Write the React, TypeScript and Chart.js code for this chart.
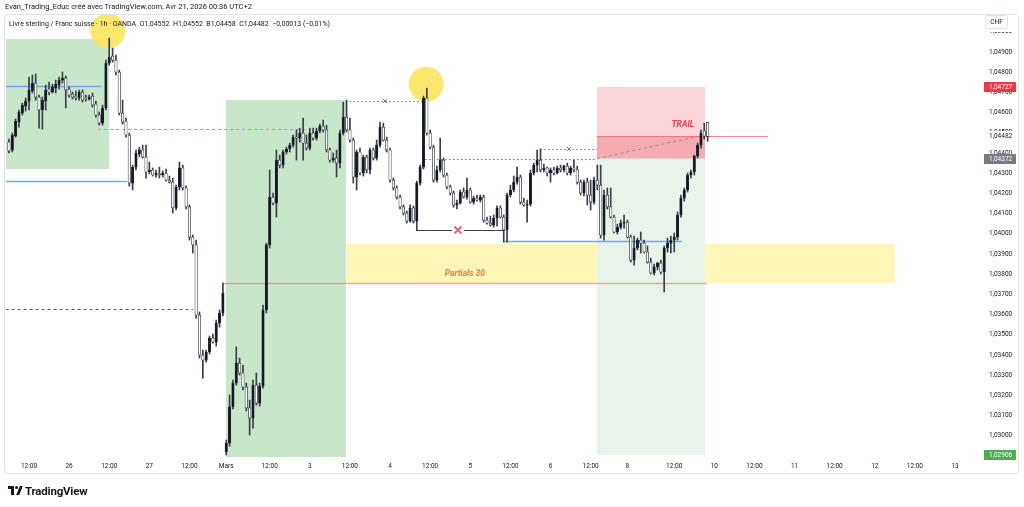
import React, { useEffect, useRef } from 'react';
import { Chart, registerables } from 'chart.js';

Chart.register(...registerables);

// ---------- candle data (GBP/CHF, 1h, OANDA) ----------
const openPrices = [
  1.04454,1.04415,1.04484,1.04553,1.04598,1.04632,1.04657,1.04707,1.04746,1.04677,
  1.04613,1.04657,1.04716,1.04702,1.04721,1.04736,1.04761,1.04771,1.04716,1.04692,
  1.04682,1.04672,1.04702,1.04672,1.04667,1.04682,1.04642,1.04588,1.04548,1.04623,
  1.04845,1.04880,1.04860,1.04801,1.04598,1.04558,1.04489,1.04251,1.04330,1.04395,
  1.04415,1.04380,1.04306,1.04316,1.04291,1.04296,1.04291,1.04301,1.04266,1.04256,
  1.04128,1.04231,1.04326,1.04227,1.04133,1.03984,1.03945,1.03598,1.03400,1.03375,
  1.03415,1.03484,1.03464,1.03558,1.03608,1.02920,1.02964,1.03143,1.03261,1.03360,
  1.03311,1.03241,1.03138,1.03088,1.03251,1.03162,1.03246,1.03623,1.03945,1.04182,
  1.04152,1.04365,1.04340,1.04405,1.04420,1.04439,1.04479,1.04474,1.04499,1.04449,
  1.04424,1.04499,1.04474,1.04509,1.04533,1.04514,1.04415,1.04365,1.04375,1.04350,
  1.04499,1.04578,1.04514,1.04464,1.04281,1.04405,1.04301,1.04380,1.04316,1.04415,
  1.04375,1.04439,1.04528,1.04464,1.04415,1.04266,1.04227,1.04182,1.04133,1.04103,
  1.04063,1.04128,1.04063,1.04251,1.04330,1.04672,1.04499,1.04429,1.04266,1.04316,
  1.04365,1.04291,1.04232,1.04202,1.04142,1.04152,1.04207,1.04182,1.04217,1.04157,
  1.04177,1.04167,1.04182,1.04068,1.04053,1.04043,1.04078,1.04128,1.04083,1.04019,
  1.04192,1.04217,1.04256,1.04281,1.04157,1.04142,1.04147,1.04301,1.04340,1.04365,
  1.04316,1.04326,1.04301,1.04316,1.04301,1.04326,1.04316,1.04335,1.04301,1.04326,
  1.04316,1.04256,1.04202,1.04256,1.04192,1.04157,1.04266,1.04241,1.03994,1.04192,
  1.04133,1.04083,1.04009,1.04033,1.04053,1.04058,1.03984,1.03870,1.03930,1.03969,
  1.03954,1.03910,1.03860,1.03806,1.03836,1.03855,1.03811,1.03930,1.03954,1.03969,
  1.03984,1.04093,1.04177,1.04217,1.04291,1.04306,1.04385,1.04439,1.04509,1.04552,
];
const highPrices = [
  1.04469,1.04499,1.04568,1.04613,1.04647,1.04672,1.04776,1.04786,1.04791,1.04687,
  1.04677,1.04736,1.04751,1.04741,1.04761,1.04776,1.04801,1.04781,1.04726,1.04702,
  1.04707,1.04712,1.04712,1.04687,1.04687,1.04697,1.04657,1.04603,1.04637,1.04860,
  1.04969,1.04919,1.04885,1.04811,1.04662,1.04573,1.04499,1.04340,1.04415,1.04429,
  1.04439,1.04439,1.04355,1.04326,1.04316,1.04330,1.04311,1.04321,1.04286,1.04276,
  1.04241,1.04355,1.04340,1.04237,1.04143,1.03994,1.03969,1.03613,1.03425,1.03425,
  1.03494,1.03504,1.03573,1.03623,1.03756,1.02979,1.03202,1.03276,1.03440,1.03385,
  1.03350,1.03261,1.03177,1.03276,1.03311,1.03261,1.03647,1.03954,1.04316,1.04202,
  1.04415,1.04390,1.04415,1.04429,1.04449,1.04489,1.04514,1.04523,1.04573,1.04489,
  1.04523,1.04523,1.04523,1.04543,1.04563,1.04538,1.04425,1.04400,1.04415,1.04514,
  1.04652,1.04662,1.04573,1.04474,1.04415,1.04425,1.04390,1.04390,1.04425,1.04425,
  1.04464,1.04553,1.04548,1.04479,1.04425,1.04276,1.04237,1.04192,1.04143,1.04113,
  1.04143,1.04138,1.04261,1.04340,1.04682,1.04721,1.04514,1.04439,1.04335,1.04474,
  1.04375,1.04301,1.04241,1.04212,1.04167,1.04217,1.04227,1.04276,1.04227,1.04187,
  1.04192,1.04192,1.04192,1.04083,1.04088,1.04093,1.04138,1.04138,1.04093,1.04202,
  1.04241,1.04286,1.04330,1.04291,1.04177,1.04167,1.04316,1.04350,1.04415,1.04420,
  1.04345,1.04330,1.04326,1.04330,1.04335,1.04340,1.04340,1.04350,1.04335,1.04365,
  1.04335,1.04266,1.04266,1.04276,1.04266,1.04281,1.04340,1.04340,1.04217,1.04227,
  1.04227,1.04093,1.04048,1.04068,1.04093,1.04068,1.03994,1.03989,1.03979,1.04009,
  1.03969,1.03940,1.03880,1.03850,1.03860,1.03870,1.03940,1.03979,1.03989,1.04004,
  1.04108,1.04192,1.04227,1.04301,1.04316,1.04390,1.04449,1.04514,1.04548,1.04552,
];
const lowPrices = [
  1.04400,1.04405,1.04479,1.04528,1.04588,1.04608,1.04613,1.04697,1.04662,1.04523,
  1.04518,1.04613,1.04687,1.04697,1.04697,1.04716,1.04746,1.04623,1.04677,1.04667,
  1.04662,1.04662,1.04652,1.04657,1.04662,1.04627,1.04578,1.04538,1.04538,1.04613,
  1.04835,1.04850,1.04786,1.04588,1.04543,1.04479,1.04236,1.04217,1.04316,1.04380,
  1.04375,1.04276,1.04296,1.04286,1.04281,1.04276,1.04281,1.04261,1.04251,1.04103,
  1.04118,1.04217,1.04217,1.04123,1.03969,1.03905,1.03583,1.03385,1.03286,1.03365,
  1.03405,1.03459,1.03444,1.03538,1.03593,1.02905,1.02949,1.03133,1.03251,1.03301,
  1.03227,1.03123,1.03004,1.03038,1.03152,1.03147,1.03236,1.03608,1.03930,1.04143,
  1.04083,1.04326,1.04326,1.04395,1.04405,1.04429,1.04365,1.04454,1.04365,1.04415,
  1.04415,1.04464,1.04464,1.04499,1.04504,1.04405,1.04355,1.04355,1.04281,1.04326,
  1.04489,1.04504,1.04454,1.04251,1.04217,1.04291,1.04286,1.04301,1.04296,1.04365,
  1.04365,1.04429,1.04459,1.04405,1.04256,1.04217,1.04172,1.04123,1.04093,1.04053,
  1.04058,1.04053,1.04019,1.04241,1.04321,1.04489,1.04420,1.04256,1.04256,1.04306,
  1.04281,1.04222,1.04192,1.04132,1.04123,1.04147,1.04177,1.04172,1.04152,1.04147,
  1.04162,1.04157,1.04058,1.04048,1.04038,1.04033,1.04038,1.04078,1.03959,1.03959,
  1.04182,1.04207,1.04246,1.04147,1.04137,1.04058,1.04137,1.04291,1.04306,1.04306,
  1.04306,1.04286,1.04256,1.04291,1.04296,1.04306,1.04306,1.04291,1.04291,1.04306,
  1.04246,1.04192,1.04187,1.04142,1.04118,1.04147,1.04217,1.03979,1.03969,1.04123,
  1.04078,1.04004,1.03999,1.04023,1.04028,1.03979,1.03860,1.03845,1.03920,1.03905,
  1.03905,1.03855,1.03801,1.03796,1.03821,1.03801,1.03712,1.03910,1.03905,1.03910,
  1.03969,1.04083,1.04162,1.04207,1.04276,1.04291,1.04375,1.04424,1.04469,1.04458,
];
const closePrices = [
  1.04410,1.04489,1.04558,1.04603,1.04637,1.04657,1.04712,1.04746,1.04677,1.04613,
  1.04662,1.04712,1.04702,1.04726,1.04741,1.04761,1.04771,1.04712,1.04687,1.04677,
  1.04672,1.04702,1.04662,1.04667,1.04677,1.04637,1.04588,1.04548,1.04623,1.04845,
  1.04875,1.04860,1.04801,1.04598,1.04553,1.04489,1.04251,1.04330,1.04400,1.04415,
  1.04380,1.04306,1.04316,1.04291,1.04301,1.04291,1.04301,1.04266,1.04256,1.04128,
  1.04231,1.04326,1.04227,1.04133,1.03984,1.03945,1.03598,1.03400,1.03375,1.03415,
  1.03484,1.03464,1.03558,1.03608,1.03707,1.02964,1.03143,1.03261,1.03360,1.03311,
  1.03241,1.03138,1.03088,1.03251,1.03162,1.03246,1.03623,1.03945,1.04182,1.04152,
  1.04365,1.04340,1.04405,1.04420,1.04439,1.04479,1.04474,1.04499,1.04449,1.04424,
  1.04499,1.04474,1.04509,1.04533,1.04514,1.04415,1.04365,1.04375,1.04350,1.04499,
  1.04578,1.04514,1.04464,1.04281,1.04405,1.04301,1.04380,1.04316,1.04415,1.04375,
  1.04439,1.04528,1.04464,1.04415,1.04266,1.04227,1.04182,1.04133,1.04103,1.04063,
  1.04128,1.04063,1.04251,1.04330,1.04672,1.04499,1.04429,1.04266,1.04316,1.04365,
  1.04291,1.04232,1.04202,1.04142,1.04152,1.04207,1.04182,1.04217,1.04157,1.04177,
  1.04167,1.04182,1.04068,1.04053,1.04043,1.04078,1.04128,1.04083,1.04019,1.04192,
  1.04217,1.04256,1.04281,1.04157,1.04142,1.04147,1.04301,1.04340,1.04365,1.04316,
  1.04326,1.04301,1.04316,1.04301,1.04326,1.04316,1.04335,1.04301,1.04326,1.04316,
  1.04256,1.04202,1.04256,1.04192,1.04157,1.04266,1.04241,1.03994,1.04192,1.04133,
  1.04083,1.04009,1.04033,1.04053,1.04058,1.03984,1.03870,1.03930,1.03969,1.03954,
  1.03910,1.03860,1.03806,1.03836,1.03855,1.03811,1.03930,1.03954,1.03969,1.03984,
  1.04093,1.04177,1.04217,1.04291,1.04306,1.04385,1.04439,1.04499,1.04484,1.04482,
];

// ---------- axes ----------
const timeTickIndex = [6, 18, 30, 42, 54, 65, 78, 90, 102, 114, 126, 138, 150, 162, 174, 185, 199, 211, 223, 235, 247, 259, 271, 283];
const timeTickLabels = ['12:00', '26', '12:00', '27', '12:00', 'Mars', '12:00', '3', '12:00', '4', '12:00', '5', '12:00', '6', '12:00', '8', '12:00', '10', '12:00', '11', '12:00', '12', '12:00', '13'];
const priceTicks = [1.030, 1.031, 1.032, 1.033, 1.034, 1.035, 1.036, 1.037, 1.038, 1.039, 1.040, 1.041, 1.042, 1.043, 1.044, 1.045, 1.046, 1.047, 1.048, 1.049, 1.050];
const indexRange = [-0.88, 286.88];
const priceRange = [1.028952, 1.050832];

// ---------- drawings (bar index / price) ----------
const greenZones = [
  { from: -1, to: 30, top: 1.04964, bottom: 1.04321 },
  { from: 64.9, to: 100.8, top: 1.04662, bottom: 1.02895 },
];
const partialsZone = { from: 101, to: 265, top: 1.0395, bottom: 1.03757 };
const partialsLabel = { text: 'Partials 30', index: 136.4, price: 1.03801 };
const shortPosition = { from: 175.9, to: 208.2, entry: 1.04372, stop: 1.04727, target: 1.02906, current: 1.04482, currentIndex: 205.9, lineEnd: 227.1 };
const trailLabel = { text: 'TRAIL', index: 201.6, price: 1.04538 };
const blueLevels = [
  { price: 1.04731, from: -1, to: 27.7 },
  { price: 1.04261, from: -1, to: 35.4 },
  { price: 1.03964, from: 147.8, to: 201.3 },
];
const pinkLevel = { price: 1.04519, from: 26.7, to: 88.6 };
const darkDashedLevel = { price: 1.03628, from: -1, to: 55 };
const partialLevel = { price: 1.03757, from: 63.7, to: 208.8 };
const dottedLevels = [
  { price: 1.04657, from: 101.7, to: 124.4, mark: 112.5 },
  { price: 1.0437, from: 124.4, to: 175.9, mark: null },
  { price: 1.0442, from: 158.9, to: 175.9, mark: 167.5 },
];
const lowLevel = { price: 1.04019, from: 121.8, to: 148.4, mark: 134.3 };
const highlights = [
  { index: 29.6, price: 1.05004 },
  { index: 124.8, price: 1.04741 },
];

const FONT = 'Roboto, "Liberation Sans", sans-serif';
const fmtPrice = (v: number) => v.toFixed(5).replace('.', ',');

const overlayPlugin = {
  id: 'tvOverlay',
  beforeDraw(chart: any) {
    const { ctx } = chart;
    ctx.save();
    ctx.fillStyle = '#ffffff';
    ctx.fillRect(0, 0, chart.width, chart.height);
    ctx.strokeStyle = '#e0e3eb';
    ctx.lineWidth = 1;
    ctx.beginPath();
    ctx.roundRect(4.5, 14.5, 1014, 459, 3);
    ctx.stroke();
    ctx.restore();
  },
  beforeDatasetsDraw(chart: any) {
    const { ctx, chartArea: a, scales } = chart;
    const X = (v: number) => scales.x.getPixelForValue(v);
    const Y = (v: number) => scales.y.getPixelForValue(v);
    ctx.save();
    ctx.beginPath();
    ctx.rect(a.left, a.top, a.right - a.left, a.bottom - a.top);
    ctx.clip();
    const box = (f: number, t: number, top: number, bottom: number, color: string) => {
      ctx.fillStyle = color;
      ctx.fillRect(X(f), Y(top), X(t) - X(f), Y(bottom) - Y(top));
    };
    const hline = (p: number, f: number, t: number, color: string, w: number, dash: number[] = []) => {
      const y = Math.round(Y(p)) + (w % 2 ? 0.5 : 0);
      ctx.strokeStyle = color;
      ctx.lineWidth = w;
      ctx.setLineDash(dash);
      ctx.beginPath();
      ctx.moveTo(X(f), y);
      ctx.lineTo(X(t), y);
      ctx.stroke();
      ctx.setLineDash([]);
    };
    greenZones.forEach((z) => box(z.from, z.to, z.top, z.bottom, '#c8e6c9'));
    box(partialsZone.from, partialsZone.to, partialsZone.top, partialsZone.bottom, '#fff6b8');
    const sp = shortPosition;
    box(sp.from, sp.to, sp.stop, sp.entry, '#fbd6d9');
    box(sp.from, sp.to, sp.current, sp.entry, '#f5abb1');
    box(sp.from, sp.to, sp.entry, sp.target, '#e8f4e9');

    highlights.forEach((h) => {
      ctx.fillStyle = 'rgba(253, 228, 95, 0.9)';
      ctx.beginPath();
      ctx.arc(X(h.index), Y(h.price), 17.5, 0, Math.PI * 2);
      ctx.fill();
    });

    blueLevels.forEach((l) => hline(l.price, l.from, l.to, '#6fa6f5', 1.5));
    hline(pinkLevel.price, pinkLevel.from, pinkLevel.to, '#e36cf0', 1, [3, 3]);
    hline(darkDashedLevel.price, darkDashedLevel.from, darkDashedLevel.to, '#555a66', 1, [3, 3]);
    hline(partialLevel.price, partialLevel.from, partialLevel.to, 'rgba(240, 110, 110, 0.6)', 1.5);
    dottedLevels.forEach((l) => hline(l.price, l.from, l.to, '#8a8e99', 1, [2, 2]));
    hline(lowLevel.price, lowLevel.from, lowLevel.to, '#3b3f4a', 1);
    hline(sp.current, sp.from, sp.lineEnd, 'rgba(240, 90, 100, 0.7)', 1);
    ctx.strokeStyle = '#8a8e99';
    ctx.lineWidth = 1;
    ctx.setLineDash([3, 3]);
    ctx.beginPath();
    ctx.moveTo(X(sp.from), Y(sp.entry));
    ctx.lineTo(X(sp.currentIndex), Y(sp.current));
    ctx.stroke();
    ctx.setLineDash([]);
    ctx.restore();
  },
  afterDatasetsDraw(chart: any) {
    const { ctx, scales } = chart;
    const X = (v: number) => scales.x.getPixelForValue(v);
    const Y = (v: number) => scales.y.getPixelForValue(v);
    ctx.save();
    const cross = (cx: number, cy: number, s: number, color: string, w: number) => {
      ctx.strokeStyle = color;
      ctx.lineWidth = w;
      ctx.beginPath();
      ctx.moveTo(cx - s, cy - s);
      ctx.lineTo(cx + s, cy + s);
      ctx.moveTo(cx + s, cy - s);
      ctx.lineTo(cx - s, cy + s);
      ctx.stroke();
    };
    dottedLevels.forEach((l) => {
      if (l.mark !== null) cross(X(l.mark), Y(l.price), 2, '#6a6e79', 1);
    });
    ctx.fillStyle = '#ffffff';
    ctx.fillRect(X(lowLevel.mark) - 6, Y(lowLevel.price) - 5, 12, 10);
    cross(X(lowLevel.mark), Y(lowLevel.price), 3.5, '#f0607f', 2);

    ctx.font = `italic bold 8.5px ${FONT}`;
    ctx.textAlign = 'center';
    ctx.textBaseline = 'middle';
    ctx.fillStyle = '#f47c50';
    ctx.fillText(partialsLabel.text, X(partialsLabel.index), Y(partialsLabel.price));
    ctx.fillStyle = '#ee3a4a';
    ctx.fillText(trailLabel.text, X(trailLabel.index), Y(trailLabel.price));
    ctx.restore();
  },
  afterDraw(chart: any) {
    const { ctx, scales } = chart;
    const Y = (v: number) => scales.y.getPixelForValue(v);
    const sp = shortPosition;
    const badges = [
      { price: sp.stop, bg: '#f23645', fg: '#ffffff' },
      { price: sp.current, bg: '#ffffff', fg: '#131722' },
      { price: sp.entry, bg: '#787b86', fg: '#ffffff' },
      { price: sp.target, bg: '#4caf50', fg: '#ffffff' },
    ];
    ctx.save();
    ctx.font = `6.5px ${FONT}`;
    ctx.textBaseline = 'middle';
    ctx.textAlign = 'left';
    badges.forEach((b) => {
      const y = Y(b.price);
      ctx.fillStyle = b.bg;
      ctx.fillRect(984, Math.round(y) - 5, 32, 10);
      ctx.fillStyle = b.fg;
      ctx.fillText(fmtPrice(b.price), 989, Math.round(y) + 0.5);
    });
    // currency box
    ctx.fillStyle = '#ffffff';
    ctx.fillRect(975, 15, 43, 17);
    ctx.strokeStyle = '#e0e3eb';
    ctx.beginPath();
    ctx.roundRect(985.5, 15.5, 22, 13, 2);
    ctx.stroke();
    ctx.fillStyle = '#131722';
    ctx.textAlign = 'center';
    ctx.fillText('CHF', 996.5, 22.5);
    ctx.restore();
  },
};

export default function App() {
  const ref = useRef<HTMLCanvasElement>(null);
  useEffect(() => {
    const canvas = ref.current;
    if (!canvas) return;
    const idx = openPrices.map((_, i) => i);
    const bodies = idx.map((i) => ({ x: i, y: [openPrices[i], closePrices[i]] }));
    const wicks = idx.map((i) => ({ x: i, y: [lowPrices[i], highPrices[i]] }));
    const bodyColors = idx.map((i) => (closePrices[i] >= openPrices[i] ? '#131722' : '#ffffff'));
    const chart = new Chart(canvas, {
      type: 'bar',
      data: {
        datasets: [
          {
            data: bodies as any,
            backgroundColor: bodyColors,
            borderColor: '#2a2e39',
            borderWidth: 0.7,
            borderSkipped: false,
            barThickness: 2.5,
            grouped: false,
          } as any,
          {
            data: wicks as any,
            backgroundColor: '#3a3e49',
            borderWidth: 0,
            barThickness: 1,
            grouped: false,
          } as any,
        ],
      },
      options: {
        animation: false,
        responsive: false,
        maintainAspectRatio: false,
        events: [],
        layout: { padding: { left: 6, top: 15, right: 6, bottom: 34 } },
        plugins: { legend: { display: false }, tooltip: { enabled: false }, title: { display: false } },
        scales: {
          x: {
            type: 'linear',
            min: indexRange[0],
            max: indexRange[1],
            offset: false,
            grid: { display: false, drawTicks: false },
            border: { display: false },
            afterBuildTicks: (s: any) => {
              s.ticks = timeTickIndex.map((v) => ({ value: v }));
            },
            afterFit: (s: any) => {
              s.height = 16;
              s.paddingLeft = 0;
              s.paddingRight = 0;
              s.paddingTop = 0;
              s.paddingBottom = 0;
            },
            ticks: {
              autoSkip: false,
              maxRotation: 0,
              minRotation: 0,
              padding: 5,
              color: '#131722',
              font: { size: 6.5, family: FONT },
              callback: (v: any) => {
                const k = timeTickIndex.indexOf(Number(v));
                return k >= 0 ? timeTickLabels[k] : '';
              },
            },
          },
          y: {
            type: 'linear',
            position: 'right',
            min: priceRange[0],
            max: priceRange[1],
            grid: { display: false, drawTicks: false },
            border: { display: false },
            afterBuildTicks: (s: any) => {
              s.ticks = priceTicks.map((v) => ({ value: v }));
            },
            afterFit: (s: any) => {
              s.width = 50;
              s.paddingLeft = 0;
              s.paddingRight = 0;
              s.paddingTop = 0;
              s.paddingBottom = 0;
            },
            ticks: {
              padding: 21,
              color: '#131722',
              font: { size: 6.5, family: FONT },
              callback: (v: any) => fmtPrice(Number(v)),
            },
          },
        },
      } as any,
      plugins: [overlayPlugin as any],
    });
    return () => chart.destroy();
  }, []);

  const text = { position: 'absolute' as const, color: '#131722', fontFamily: FONT, whiteSpace: 'pre' as const };
  return (
    <div style={{ position: 'fixed', left: 0, top: 0, width: 1024, height: 507, background: '#fff', overflow: 'hidden' }}>
      <canvas ref={ref} width={1024} height={507} style={{ position: 'absolute', left: 0, top: 0, width: 1024, height: 507 }} />
      <div style={{ ...text, left: 5, top: 2, fontSize: 7.5, lineHeight: '10px' }}>
        Evan_Trading_Educ créé avec TradingView.com, Avr 21, 2026 00:36 UTC+2
      </div>
      <div style={{ ...text, left: 9, top: 19, fontSize: 7, lineHeight: '10px' }}>
        Livre sterling / Franc suisse · 1h · OANDA  O1,04552  H1,04552  B1,04458  C1,04482  −0,00013 (−0,01%)
      </div>
      <div style={{ position: 'absolute', left: 8, top: 486, width: 6, height: 3, background: '#131722' }} />
      <div style={{ position: 'absolute', left: 11, top: 486, width: 3, height: 9, background: '#131722' }} />
      <div style={{ position: 'absolute', left: 15, top: 486, width: 3, height: 3, borderRadius: '50%', background: '#131722' }} />
      <div style={{ position: 'absolute', left: 18, top: 486, width: 3, height: 9, background: '#131722', transform: 'skewX(-22deg)' }} />
      <div style={{ ...text, left: 25, top: 484, fontSize: 11.5, fontWeight: 700, lineHeight: '14px', letterSpacing: '-0.2px' }}>
        TradingView
      </div>
    </div>
  );
}
